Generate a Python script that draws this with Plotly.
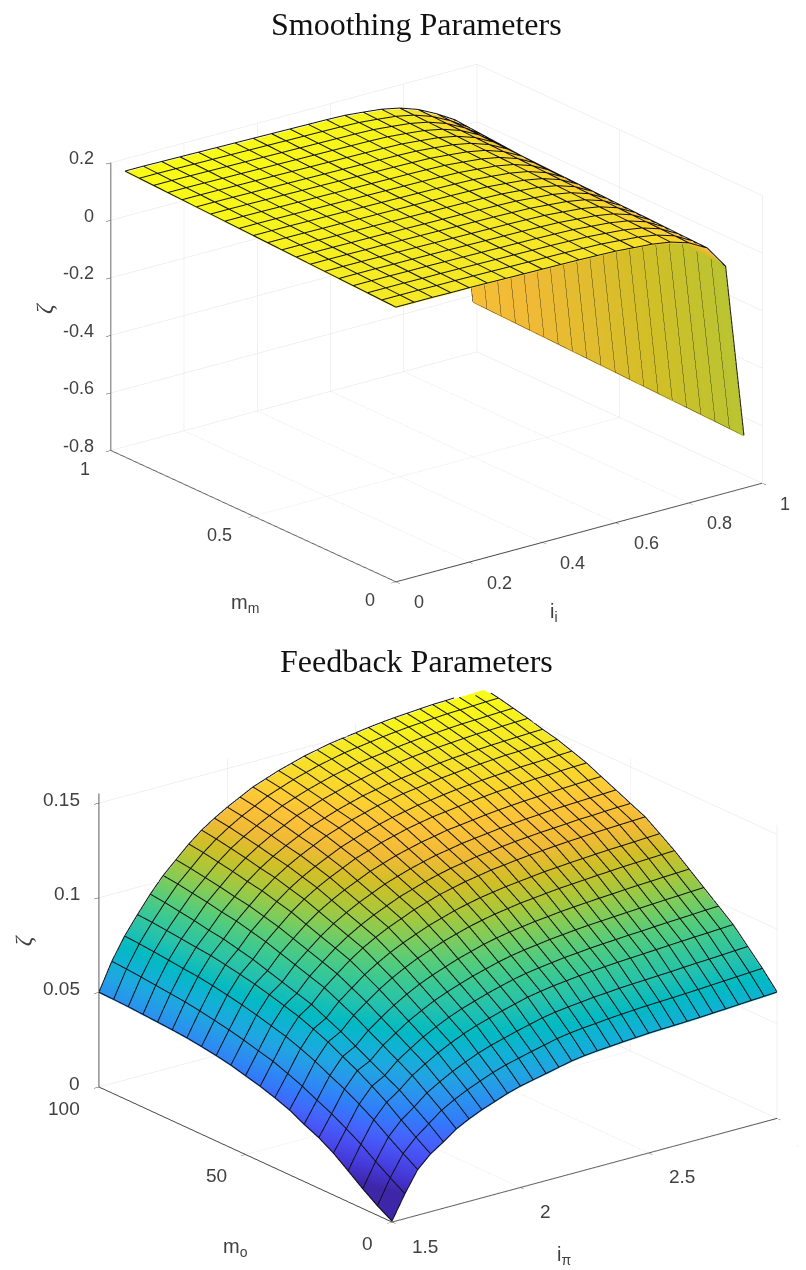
import plotly.graph_objects as go

# ---------- Smoothing Parameters ----------
ii_values = [0.00, 0.05, 0.10, 0.15, 0.20, 0.25, 0.30, 0.35, 0.40, 0.45,
             0.50, 0.55, 0.60, 0.65, 0.70, 0.75, 0.80, 0.85, 0.90, 0.95]
mm_values = [0.00, 0.05, 0.10, 0.15, 0.20, 0.25, 0.30, 0.35, 0.40, 0.45,
             0.50, 0.55, 0.60, 0.65, 0.70, 0.75, 0.80, 0.85, 0.90, 0.95]
# one list per i_i value, running along m_m
smooth_cols = [
 [.1510,.1531,.1551,.1572,.1592,.1613,.1633,.1654,.1674,.1695,.1715,.1736,.1756,.1777,.1797,.1818,.1838,.1859,.1879,.1900],
 [.1510,.1531,.1551,.1572,.1592,.1613,.1633,.1654,.1674,.1695,.1715,.1736,.1756,.1777,.1797,.1818,.1838,.1859,.1879,.1900],
 [.1510,.1530,.1550,.1570,.1590,.1610,.1630,.1650,.1670,.1690,.1710,.1730,.1750,.1770,.1790,.1810,.1830,.1850,.1870,.1890],
 [.1500,.1520,.1540,.1560,.1580,.1600,.1620,.1640,.1660,.1680,.1700,.1720,.1740,.1760,.1780,.1800,.1820,.1840,.1860,.1880],
 [.1500,.1519,.1539,.1558,.1578,.1597,.1617,.1636,.1656,.1675,.1695,.1714,.1734,.1753,.1773,.1792,.1812,.1831,.1851,.1870],
 [.1490,.1509,.1529,.1548,.1568,.1587,.1607,.1626,.1646,.1665,.1685,.1704,.1724,.1743,.1763,.1782,.1802,.1821,.1841,.1860],
 [.1480,.1499,.1519,.1538,.1558,.1577,.1597,.1616,.1636,.1655,.1675,.1694,.1714,.1733,.1753,.1772,.1792,.1811,.1831,.1850],
 [.1470,.1489,.1509,.1528,.1548,.1567,.1587,.1606,.1626,.1645,.1665,.1684,.1704,.1723,.1743,.1762,.1782,.1801,.1821,.1840],
 [.1460,.1479,.1499,.1518,.1538,.1557,.1577,.1596,.1616,.1635,.1655,.1674,.1694,.1713,.1733,.1752,.1772,.1791,.1811,.1830],
 [.1450,.1469,.1489,.1508,.1528,.1547,.1567,.1586,.1606,.1625,.1645,.1664,.1684,.1703,.1723,.1742,.1762,.1781,.1801,.1820],
 [.1440,.1459,.1479,.1498,.1518,.1537,.1557,.1576,.1596,.1615,.1635,.1654,.1674,.1693,.1713,.1732,.1752,.1771,.1791,.1810],
 [.1420,.1440,.1460,.1480,.1500,.1520,.1540,.1560,.1580,.1600,.1620,.1640,.1660,.1680,.1700,.1720,.1740,.1760,.1780,.1800],
 [.1400,.1420,.1440,.1460,.1480,.1500,.1520,.1540,.1560,.1580,.1600,.1620,.1640,.1660,.1680,.1700,.1720,.1740,.1760,.1780],
 [.1350,.1369,.1389,.1408,.1428,.1447,.1467,.1486,.1506,.1525,.1545,.1564,.1584,.1603,.1623,.1642,.1662,.1681,.1701,.1720],
 [.1300,.1318,.1337,.1355,.1374,.1392,.1411,.1429,.1447,.1466,.1484,.1503,.1521,.1539,.1558,.1576,.1595,.1613,.1632,.1650],
 [.1200,.1217,.1234,.1251,.1267,.1284,.1301,.1318,.1335,.1352,.1368,.1385,.1402,.1419,.1436,.1453,.1469,.1486,.1503,.1520],
 [.1000,.1016,.1032,.1047,.1063,.1079,.1095,.1111,.1126,.1142,.1158,.1174,.1189,.1205,.1221,.1237,.1253,.1268,.1284,.1300],
 [.0650,.0667,.0685,.0702,.0719,.0737,.0754,.0772,.0789,.0806,.0824,.0841,.0858,.0876,.0893,.0911,.0928,.0945,.0963,.0980],
 [-.0150,-.0111,-.0071,-.0032,.0008,.0047,.0087,.0126,.0166,.0205,.0245,.0284,.0324,.0363,.0403,.0442,.0482,.0521,.0561,.0600],
 [-.6200,-.6184,-.6168,-.6153,-.6137,-.6121,-.6105,-.6089,-.6074,-.6058,-.6042,-.6026,-.6011,-.5995,-.5979,-.5963,-.5947,-.5932,-.5916,-.5900],
]
smooth_x_ticks = [0, 0.2, 0.4, 0.6, 0.8, 1]
smooth_y_ticks = [0, 0.5, 1]
smooth_z_ticks = [-0.8, -0.6, -0.4, -0.2, 0, 0.2]

# ---------- Feedback Parameters ----------
ipi_values = [1.50, 1.55, 1.60, 1.65, 1.70, 1.75, 1.80, 1.85, 1.90, 1.95, 2.00,
              2.05, 2.10, 2.15, 2.20, 2.25, 2.30, 2.35, 2.40, 2.45, 2.50,
              2.55, 2.60, 2.65, 2.70, 2.75, 2.80, 2.85, 2.90, 2.95, 3.00]
mo_values = [0, 5, 10, 15, 20, 25, 30, 35, 40, 45, 50,
             55, 60, 65, 70, 75, 80, 85, 90, 95, 100]
# one list per i_pi value, running along m_o
feedback_cols = [
 [0,.0045,.0099,.0158,.0216,.0262,.0297,.0337,.0366,.0391,.0411,.0431,.0446,.0458,.0468,.0475,.0480,.0485,.0490,.0493,.0495],
 [.0125,.0174,.0225,.0280,.0326,.0370,.0406,.0444,.0475,.0504,.0524,.0545,.0563,.0578,.0592,.0604,.0612,.0620,.0628,.0635,.0640],
 [.0235,.0284,.0336,.0391,.0438,.0482,.0518,.0557,.0589,.0617,.0638,.0659,.0677,.0693,.0707,.0719,.0726,.0735,.0743,.0750,.0755],
 [.0300,.0352,.0407,.0465,.0515,.0561,.0600,.0641,.0674,.0704,.0726,.0748,.0768,.0784,.0799,.0812,.0820,.0829,.0837,.0845,.0850],
 [.0345,.0405,.0458,.0512,.0553,.0595,.0637,.0678,.0714,.0750,.0773,.0797,.0821,.0845,.0863,.0881,.0892,.0907,.0919,.0931,.0940],
 [.0395,.0458,.0514,.0570,.0614,.0658,.0701,.0745,.0783,.0820,.0845,.0870,.0895,.0920,.0939,.0958,.0970,.0986,.0998,.1011,.1020],
 [.0430,.0496,.0554,.0613,.0659,.0705,.0751,.0797,.0836,.0875,.0902,.0928,.0954,.0980,.1000,.1020,.1033,.1049,.1062,.1075,.1085],
 [.0460,.0529,.0591,.0653,.0702,.0750,.0798,.0846,.0888,.0929,.0957,.0984,.1012,.1040,.1060,.1081,.1095,.1112,.1126,.1140,.1150],
 [.0485,.0557,.0622,.0687,.0737,.0787,.0838,.0888,.0931,.0975,.1003,.1032,.1061,.1090,.1111,.1133,.1147,.1165,.1180,.1194,.1205],
 [.0510,.0584,.0651,.0717,.0769,.0821,.0873,.0924,.0969,.1013,.1043,.1072,.1102,.1132,.1154,.1176,.1191,.1209,.1224,.1239,.1250],
 [.0530,.0606,.0674,.0743,.0796,.0849,.0902,.0956,.1001,.1047,.1077,.1108,.1138,.1168,.1191,.1214,.1229,.1248,.1263,.1279,.1290],
 [.0545,.0623,.0693,.0763,.0818,.0873,.0927,.0982,.1029,.1075,.1107,.1138,.1169,.1200,.1224,.1247,.1263,.1282,.1298,.1313,.1325],
 [.0560,.0640,.0712,.0784,.0840,.0896,.0952,.1008,.1056,.1104,.1136,.1168,.1200,.1232,.1256,.1280,.1296,.1316,.1332,.1348,.1360],
 [.0575,.0656,.0729,.0802,.0859,.0915,.0972,.1029,.1077,.1126,.1158,.1191,.1223,.1255,.1280,.1304,.1320,.1340,.1357,.1373,.1385],
 [.0590,.0672,.0746,.0820,.0877,.0934,.0992,.1049,.1098,.1148,.1180,.1213,.1246,.1279,.1303,.1328,.1344,.1365,.1381,.1398,.1410],
 [.0600,.0683,.0758,.0832,.0891,.0949,.1007,.1065,.1115,.1164,.1198,.1231,.1264,.1297,.1322,.1347,.1364,.1384,.1401,.1418,.1430],
 [.0607,.0691,.0767,.0843,.0902,.0961,.1020,.1079,.1130,.1180,.1214,.1248,.1281,.1315,.1340,.1366,.1383,.1404,.1420,.1437,.1450],
 [.0612,.0697,.0774,.0851,.0911,.0970,.1030,.1090,.1141,.1192,.1226,.1260,.1294,.1329,.1354,.1380,.1397,.1418,.1435,.1452,.1465],
 [.0618,.0704,.0782,.0859,.0920,.0980,.1040,.1101,.1152,.1204,.1239,.1273,.1308,.1342,.1368,.1394,.1411,.1433,.1450,.1467,.1480],
 [.0622,.0709,.0787,.0865,.0926,.0987,.1047,.1108,.1160,.1212,.1247,.1282,.1316,.1351,.1377,.1403,.1421,.1442,.1460,.1477,.1490],
 [.0627,.0714,.0793,.0871,.0933,.0994,.1055,.1116,.1168,.1221,.1256,.1290,.1325,.1360,.1387,.1413,.1430,.1452,.1469,.1487,.1500],
 [.0630,.0718,.0797,.0876,.0938,.1000,.1061,.1123,.1176,.1228,.1264,.1299,.1334,.1369,.1396,.1422,.1440,.1462,.1479,.1497,.1510],
 [.0632,.0721,.0800,.0880,.0942,.1004,.1066,.1128,.1181,.1234,.1270,.1305,.1341,.1376,.1403,.1429,.1447,.1469,.1487,.1505,.1518],
 [.0635,.0724,.0804,.0884,.0947,.1009,.1071,.1133,.1187,.1240,.1276,.1311,.1347,.1383,.1409,.1436,.1454,.1476,.1494,.1512,.1525],
 [.0638,.0727,.0807,.0888,.0950,.1013,.1075,.1138,.1191,.1245,.1280,.1316,.1352,.1387,.1414,.1441,.1459,.1481,.1499,.1517,.1530],
 [.0642,.0731,.0812,.0892,.0955,.1017,.1080,.1142,.1196,.1249,.1285,.1321,.1356,.1392,.1419,.1446,.1464,.1486,.1504,.1522,.1535],
 [.0646,.0735,.0816,.0896,.0959,.1021,.1084,.1147,.1200,.1254,.1290,.1325,.1361,.1397,.1424,.1451,.1468,.1491,.1509,.1527,.1540],
 [.0650,.0739,.0819,.0900,.0962,.1025,.1087,.1150,.1203,.1257,.1292,.1328,.1364,.1399,.1426,.1453,.1471,.1493,.1511,.1529,.1542],
 [.0654,.0743,.0823,.0903,.0966,.1028,.1091,.1153,.1206,.1260,.1296,.1331,.1367,.1403,.1429,.1456,.1474,.1496,.1514,.1532,.1545],
 [.0658,.0747,.0827,.0907,.0970,.1032,.1094,.1156,.1210,.1263,.1299,.1334,.1370,.1406,.1432,.1459,.1477,.1499,.1517,.1535,.1548],
 [.0662,.0751,.0831,.0911,.0973,.1035,.1097,.1159,.1213,.1266,.1301,.1337,.1372,.1408,.1435,.1461,.1479,.1501,.1519,.1537,.1550],
]
feedback_x_ticks = [1.5, 2, 2.5, 3]
feedback_y_ticks = [0, 50, 100]
feedback_z_ticks = [0, 0.05, 0.1, 0.15]

parula_rgb = [
 (0.2422,0.1504,0.6603),(0.2706,0.2147,0.8364),(0.2813,0.3006,0.9414),(0.2699,0.3892,0.9906),
 (0.1963,0.4847,0.9892),(0.1687,0.5703,0.9359),(0.1248,0.6459,0.8883),(0.0689,0.6948,0.8394),
 (0.0067,0.7312,0.7660),(0.1408,0.7584,0.6842),(0.2161,0.7843,0.5923),(0.3406,0.8008,0.4789),
 (0.5044,0.7993,0.3480),(0.6720,0.7793,0.2227),(0.8203,0.7498,0.1535),(0.9393,0.7288,0.2100),
 (0.9970,0.7659,0.2199),(0.9786,0.8386,0.1766),(0.9597,0.9135,0.1423),(0.9769,0.9839,0.0805),
]
parula = [[n / (len(parula_rgb) - 1), f"rgb({r*255:.0f},{g*255:.0f},{b*255:.0f})"]
          for n, (r, g, b) in enumerate(parula_rgb)]

SANS = "Liberation Sans"
INK = "#404040"


def surface(scene, xs, ys, cols, cmin, cmax, flat_last=False):
    z = [list(r) for r in zip(*cols)]
    color = [r[:-1] + [r[-2]] for r in z] if flat_last else z
    return go.Surface(
        scene=scene, x=xs, y=ys, z=z, surfacecolor=color, colorscale=parula,
        cmin=cmin, cmax=cmax, showscale=False, hoverinfo="skip",
        lighting=dict(ambient=1, diffuse=0, specular=0, fresnel=0, roughness=1),
        contours=dict(x=dict(highlight=False), y=dict(highlight=False), z=dict(highlight=False)),
    )


def mesh_lines(scene, xs, ys, cols, lift):
    lx, ly, lz = [], [], []
    for x, col in zip(xs, cols):
        lx += [x] * len(ys) + [None]
        ly += list(ys) + [None]
        lz += [v + lift for v in col] + [None]
    for j, y in enumerate(ys):
        lx += list(xs) + [None]
        ly += [y] * len(xs) + [None]
        lz += [c[j] + lift for c in cols] + [None]
    return go.Scatter3d(scene=scene, x=lx, y=ly, z=lz, mode="lines", hoverinfo="skip",
                        line=dict(color="#111111", width=2), showlegend=False)


def axis(rng, ticks):
    return dict(
        range=rng, tickmode="array", tickvals=ticks, showticklabels=False, title=dict(text=""),
        showbackground=False, showgrid=True, gridcolor="#e2e2e2", gridwidth=1,
        showline=True, linecolor="#444444", linewidth=2, zeroline=False,
        ticks="outside", ticklen=6, tickcolor="#444444", tickwidth=1, showspikes=False,
    )


def scene_layout(dom_x, dom_y, xr, yr, zr, xt, yt, zt, aspect, xtitle, ytitle, tick_size, sh):
    eye_len = 2.0
    eye = dict(x=-0.568 * eye_len, y=-0.743 * eye_len, z=0.352 * eye_len)
    tf = dict(family=SANS, size=tick_size, color=INK)
    f = dict(family=SANS, size=20, color=INK)
    xmid = (xr[0] + xr[1]) / 2
    ymid = (yr[0] + yr[1]) / 2
    notes = []
    for v in xt:
        notes.append(dict(x=v, y=yr[0], z=zr[0], text=str(v), showarrow=False, xanchor="left",
                          xshift=sh["x"][0], yshift=sh["x"][1], font=tf))
    for v in yt:
        notes.append(dict(x=xr[0], y=v, z=zr[0], text=str(v), showarrow=False, xanchor="right",
                          xshift=sh["y"][0], yshift=sh["y"][1], font=tf))
    for v in zt:
        notes.append(dict(x=xr[0], y=yr[1], z=v, text=str(v), showarrow=False, xanchor="right",
                          xshift=sh["z"][0], yshift=sh["z"][1], font=tf))
    notes += [
        dict(x=xmid, y=yr[0], z=zr[0], text=xtitle, showarrow=False,
             xshift=sh["xt"][0], yshift=sh["xt"][1], font=f),
        dict(x=xr[0], y=ymid, z=zr[0], text=ytitle, showarrow=False,
             xshift=sh["yt"][0], yshift=sh["yt"][1], font=f),
        dict(x=xr[0], y=yr[1], z=(zr[0] + zr[1]) / 2, text="<i>ζ</i>", showarrow=False, textangle=-90,
             xshift=sh["zt"][0], yshift=sh["zt"][1],
             font=dict(family="Liberation Serif", size=24, color=INK)),
    ]
    return dict(
        domain=dict(x=dom_x, y=dom_y),
        xaxis=axis(xr, xt), yaxis=axis(yr, yt), zaxis=axis(zr, zt),
        aspectmode="manual", aspectratio=dict(x=aspect[0], y=aspect[1], z=aspect[2]),
        camera=dict(eye=eye, up=dict(x=0, y=0, z=1), center=dict(x=0, y=0, z=0),
                    projection=dict(type="orthographic")),
        annotations=notes, bgcolor="white",
    )


W = 798   # the page adds an 8 px body margin
H = 1262
fig = go.Figure()
fig.add_trace(surface("scene", ii_values, mm_values, smooth_cols, -0.5, 0.19, flat_last=True))
fig.add_trace(mesh_lines("scene", ii_values, mm_values, smooth_cols, 0.004))
fig.add_trace(surface("scene2", ipi_values, mo_values, feedback_cols, 0.012, 0.155))
fig.add_trace(mesh_lines("scene2", ipi_values, mo_values, feedback_cols, 0.0006))

fig.update_layout(
    width=W, height=H, margin=dict(l=0, r=0, t=0, b=0), paper_bgcolor="white", showlegend=False,
    scene=scene_layout([59 / W, 1], [1 - 596.5 / H, 1 - 32.5 / H], [0, 1], [0, 1], [-0.8, 0.2],
                       smooth_x_ticks, smooth_y_ticks, smooth_z_ticks, (1.635, 1.665, 1.09),
                       "i<sub>i</sub>", "m<sub>m</sub>", 18,
                       dict(x=(16, -21), y=(-19, -19), z=(-15, 4), xt=(-25, -80), yt=(-8, -88), zt=(-67, -2))),
    scene2=scene_layout([62 / W, 1], [1 - 1223 / H, 1 - 673 / H], [1.5, 3], [0, 100], [0, 0.155],
                        feedback_x_ticks, feedback_y_ticks, feedback_z_ticks, (1.762, 1.755, 1.14),
                        "i<sub>π</sub>", "m<sub>o</sub>", 19,
                        dict(x=(18, -24), y=(-17, -21), z=(-17, 4), xt=(-21, -85), yt=(-10, -93), zt=(-76, 0))),
    annotations=[
        dict(x=408 / W, y=1 - 16 / H, xref="paper", yref="paper", xanchor="center", yanchor="middle",
             text="Smoothing Parameters", showarrow=False,
             font=dict(family="Liberation Serif", size=32, color="#111111")),
        dict(x=408 / W, y=1 - 653 / H, xref="paper", yref="paper", xanchor="center", yanchor="middle",
             text="Feedback Parameters", showarrow=False,
             font=dict(family="Liberation Serif", size=32, color="#111111")),
    ],
)
fig.write_html("out.html")
